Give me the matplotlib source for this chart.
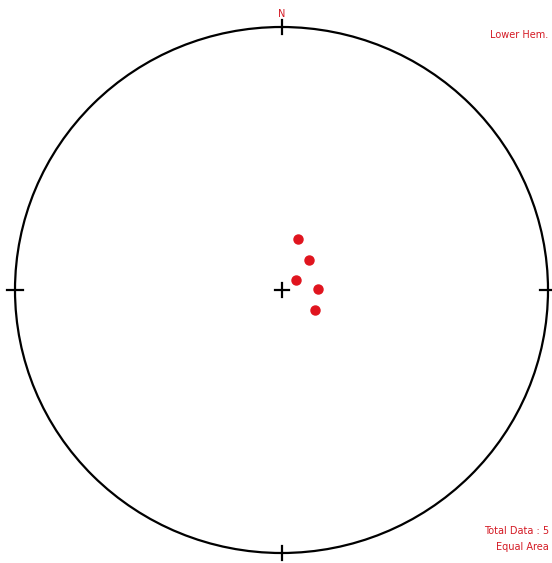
import numpy as np
import matplotlib
matplotlib.use("Agg")
import matplotlib.pyplot as plt
from matplotlib.patches import Circle

# poles as trend / plunge (degrees), lower hemisphere
trend = [18, 42, 56, 88, 122]
plunge = [73.3, 77.7, 84.5, 79.0, 78.1]


def equal_area(trend_deg, plunge_deg):
    t = np.radians(trend_deg)
    p = np.radians(plunge_deg)
    r = np.sqrt(2) * np.sin((np.pi / 2 - p) / 2)
    return r * np.sin(t), r * np.cos(t)


W, H = 552, 563
fig = plt.figure(figsize=(W / 100, H / 100), dpi=100)
cx, cy, Rx, Ry = 281.5, 290, 266.5, 263
ax = fig.add_axes([(cx - Rx) / W, (H - cy - Ry) / H, 2 * Rx / W, 2 * Ry / H])
ax.set_xlim(-1, 1)
ax.set_ylim(-1, 1)
ax.axis("off")

ax.add_patch(Circle((0, 0), 1, fill=False, ec="black", lw=1.6, clip_on=False))

# tick marks at N, E, S, W
tx, ty = 8 / Rx, 7 / Ry
ax.plot([0, 0], [1 - ty, 1 + ty], color="black", lw=1.6, clip_on=False)
ax.plot([0, 0], [-1 - ty, -1 + ty], color="black", lw=1.6, clip_on=False)
ax.plot([-1 - tx, -1 + tx], [0, 0], color="black", lw=1.6, clip_on=False)
ax.plot([1 - tx, 1 + tx], [0, 0], color="black", lw=1.6, clip_on=False)

# centre cross
ax.plot([-7 / Rx, 7 / Rx], [0, 0], color="black", lw=1.6)
ax.plot([0, 0], [-7 / Ry, 7 / Ry], color="black", lw=1.6)

x, y = equal_area(np.array(trend), np.array(plunge))
ax.plot(x, y, "o", color="#e0141e", ms=6.5, mec="#e0141e")

red = "#d41a24"
fig.text(cx / W, 1 - 14 / H, "N", color=red, fontsize=7, ha="center", va="center")
fig.text(548 / W, 1 - 35 / H, "Lower Hem.", color=red, fontsize=7, ha="right", va="center")
fig.text(549 / W, 1 - 531 / H, "Total Data : 5", color=red, fontsize=7, ha="right", va="center")
fig.text(549 / W, 1 - 547 / H, "Equal Area", color=red, fontsize=7, ha="right", va="center")

fig.savefig("out.png", dpi=100, facecolor="white")
